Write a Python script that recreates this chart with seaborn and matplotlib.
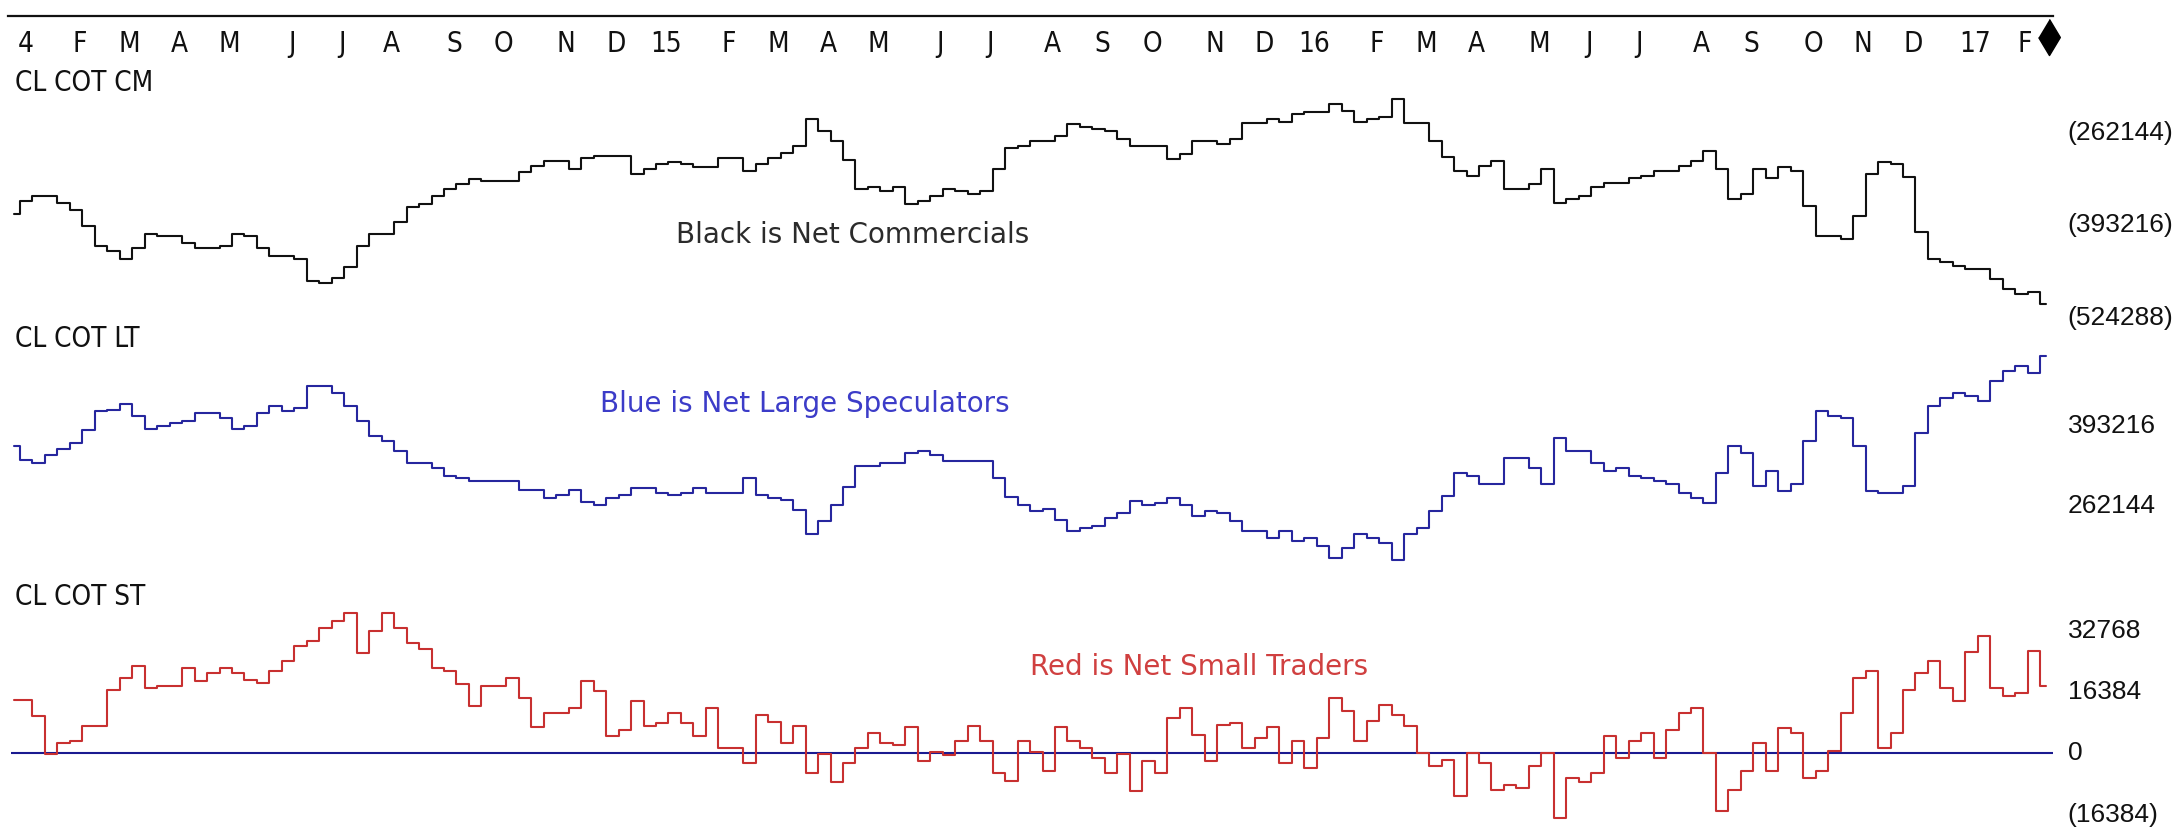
import numpy as np
import pandas as pd
import matplotlib
matplotlib.use("Agg")
import matplotlib.pyplot as plt
from matplotlib.transforms import blended_transform_factory
import seaborn as sns

sns.set_style("white")
plt.rcParams["font.family"] = ["DejaVu Sans"]

# ---------------------------------------------------------------------------
# Crude oil (CL) Commitments of Traders, weekly, net positions in thousands
# ---------------------------------------------------------------------------
week_dates = pd.date_range("2014-01-03", periods=164, freq="7D")

commercials_k = [
    -377, -359, -352, -352, -362, -371, -394, -422, -430, -441,
    -425, -405, -408, -408, -418, -425, -425, -422, -405, -408,
    -425, -436, -436, -440, -472, -475, -468, -452, -422, -405,
    -405, -388, -367, -363, -352, -341, -335, -327, -330, -330,
    -330, -317, -309, -302, -302, -313, -298, -295, -295, -295,
    -320, -313, -306, -303, -306, -310, -310, -298, -298, -316,
    -306, -298, -291, -281, -243, -259, -274, -301, -341, -338,
    -344, -338, -363, -359, -352, -342, -344, -349, -345, -313,
    -284, -281, -273, -273, -267, -249, -253, -256, -260, -271,
    -281, -281, -281, -299, -292, -274, -274, -278, -271, -248,
    -248, -242, -246, -235, -232, -232, -221, -231, -246, -243,
    -239, -214, -248, -248, -274, -296, -316, -323, -309, -302,
    -341, -341, -334, -313, -362, -355, -351, -338, -333, -333,
    -326, -323, -316, -316, -309, -302, -288, -313, -355, -348,
    -313, -326, -310, -316, -366, -408, -408, -412, -380, -320,
    -303, -306, -324, -402, -441, -445, -451, -455, -455, -469,
    -483, -490, -487, -504,
]

large_specs_k = [
    360, 338, 332, 345, 356, 365, 386, 417, 419, 430,
    410, 389, 393, 398, 401, 414, 414, 406, 389, 393,
    414, 426, 418, 422, 459, 459, 447, 426, 401, 377,
    369, 353, 332, 332, 324, 311, 308, 303, 303, 303,
    303, 288, 288, 276, 280, 288, 268, 264, 276, 280,
    292, 292, 284, 280, 284, 291, 284, 284, 284, 308,
    280, 276, 272, 256, 217, 238, 264, 293, 328, 328,
    332, 332, 349, 353, 345, 336, 336, 336, 336, 308,
    277, 264, 254, 258, 239, 222, 226, 229, 242, 250,
    271, 263, 267, 275, 263, 246, 254, 250, 238, 222,
    222, 209, 222, 205, 209, 197, 177, 193, 217, 209,
    201, 173, 217, 226, 254, 279, 316, 311, 299, 299,
    340, 340, 324, 299, 373, 353, 353, 332, 320, 324,
    311, 308, 303, 299, 283, 275, 267, 316, 360, 349,
    295, 320, 287, 299, 369, 418, 410, 406, 360, 287,
    283, 283, 295, 381, 426, 439, 447, 442, 434, 467,
    483, 491, 480, 508,
]

small_traders_k = [
    14.2, 14.2, 10.0, -0.2, 2.7, 3.4, 7.4, 7.4, 16.9, 20.0,
    23.4, 17.4, 18.1, 18.1, 22.7, 19.4, 21.4, 22.7, 21.4, 19.6,
    18.7, 22.1, 24.7, 28.7, 30.1, 33.4, 35.4, 37.4, 26.7, 32.8,
    37.4, 33.4, 29.5, 28.0, 22.7, 22.1, 18.5, 12.7, 18.1, 18.1,
    20.0, 14.7, 6.9, 10.7, 10.7, 12.0, 19.4, 16.7, 4.7, 6.1,
    14.1, 7.4, 8.0, 10.7, 8.0, 4.7, 12.0, 1.5, 1.5, -2.7,
    10.2, 8.3, 2.7, 7.4, -5.2, -0.3, -7.8, -2.7, 1.3, 5.3,
    2.7, 2.2, 6.9, -2.0, 0.3, -0.4, 3.4, 7.4, 3.4, -5.2,
    -7.3, 3.4, 0.3, -4.6, 6.9, 3.4, 1.5, -1.2, -5.2, -0.3,
    -10.1, -2.0, -5.2, 9.5, 12.2, 4.9, -2.0, 7.6, 8.2, 1.3,
    4.2, 6.9, -2.7, 3.4, -4.0, 4.2, 14.9, 11.3, 3.4, 8.7,
    12.9, 10.2, 7.4, 0.0, -3.4, -1.9, -11.4, 0.0, -2.7, -9.8,
    -8.5, -9.3, -3.3, 0.0, -17.4, -6.7, -7.8, -5.2, 4.7, -1.3,
    3.4, 5.3, -1.3, 6.1, 10.7, 12.2, 0.0, -15.3, -9.8, -4.6,
    2.7, -4.6, 6.7, 5.3, -6.7, -4.6, 0.6, 10.7, 20.0, 22.1,
    1.3, 5.3, 16.9, 21.4, 24.7, 17.4, 14.1, 27.0, 31.4, 17.4,
    15.3, 16.0, 27.3, 18.1,
]

month_labels = [
    "4", "F", "M", "A", "M", "J", "J", "A", "S", "O", "N", "D",
    "15", "F", "M", "A", "M", "J", "J", "A", "S", "O", "N", "D",
    "16", "F", "M", "A", "M", "J", "J", "A", "S", "O", "N", "D",
    "17", "F",
]

commercials_ticks = [-262144, -393216, -524288]
large_specs_ticks = [393216, 262144]
small_traders_ticks = [32768, 16384, 0, -16384]

panel_titles = ["CL COT CM", "CL COT LT", "CL COT ST"]
panel_notes = ["Black is Net Commercials", "Blue is Net Large Speculators",
               "Red is Net Small Traders"]

df = pd.DataFrame({
    "week": np.arange(len(week_dates)),
    "date": week_dates,
    "commercials": np.array(commercials_k, dtype=float) * 1000,
    "large_specs": np.array(large_specs_k, dtype=float) * 1000,
    "small_traders": np.array(small_traders_k, dtype=float) * 1000,
})
n_weeks = len(df)

# first report week of every month
month_start = [0] + [i for i in range(1, n_weeks)
                     if week_dates[i].month != week_dates[i - 1].month]

# ---------------------------------------------------------------------------
# layout helpers (pixel based)
# ---------------------------------------------------------------------------
W, H = 2177, 831
fig = plt.figure(figsize=(W / 100, H / 100), dpi=100)
fig.patch.set_facecolor("white")

PX_PER_WEEK = 12.47
X0_PX = 13.77
xlim = (-X0_PX / PX_PER_WEEK, (W - X0_PX) / PX_PER_WEEK)


def band_axes(top, bottom):
    return fig.add_axes([0, 1 - bottom / H, 1, (bottom - top) / H])


def limits_for(top, bottom, va, pa, vb, pb):
    per_px = (vb - va) / (pb - pa)
    return va + (bottom - pa) * per_px, va + (top - pa) * per_px


def fmt_value(v):
    return f"({abs(v)})" if v < 0 else f"{v}"


narrow = dict(family=["Liberation Sans Narrow", "DejaVu Sans"],
              stretch="condensed")
LINE_W = 1.5

panels = [
    # column, colour, band, calibration, ticks, note colour, note x, note baseline
    ("commercials", "#111111", (60, 330), (-262144, 133, -524288, 318),
     commercials_ticks, "#2b2b2b", 67.3, -417600),
    ("large_specs", "#26269e", (330, 590), (393216, 426, 262144, 506),
     large_specs_ticks, "#3c3cc8", 63.45, 416600),
    ("small_traders", "#c83030", (590, 831), (0, 753.3, 16384, 692.0),
     small_traders_ticks, "#d04040", 95.05, 20900),
]

for (col, color, (top, bot), cal, ticks, note_color, nx, ny), title, note in zip(
        panels, panel_titles, panel_notes):
    ax = band_axes(top, bot)
    if col == "small_traders":
        ax.hlines(0, -0.2, n_weeks - 0.5, color="#1a1a90", lw=1.5, zorder=1)
    sns.lineplot(data=df, x="week", y=col, color=color, lw=LINE_W,
                 drawstyle="steps-mid", errorbar=None, legend=False, ax=ax,
                 zorder=2)
    ax.set_xlim(*xlim)
    ax.set_ylim(*limits_for(top, bot, *cal))
    ax.axis("off")
    for t in ticks:
        ax.text(n_weeks + 0.7, t, fmt_value(t), ha="left", va="center",
                fontsize=19, family="Liberation Sans", color="#111111")
    ax.text(nx, ny, note, ha="center", va="baseline", fontsize=20,
            color=note_color)

# panel captions on the left
for title, base in zip(panel_titles, [91, 347, 605]):
    fig.text(15 / W, 1 - base / H, title, ha="left", va="baseline",
             fontsize=20, color="#111111", **narrow)

# ---------------------------------------------------------------------------
# time axis along the top
# ---------------------------------------------------------------------------
ax_t = band_axes(0, 16)
ax_t.set_xlim(*xlim)
ax_t.set_ylim(0, 1)
ax_t.set_facecolor("none")
for side in ["top", "left", "right"]:
    ax_t.spines[side].set_visible(False)
ax_t.spines["bottom"].set_linewidth(1.6)
ax_t.spines["bottom"].set_color("#111111")
ax_t.spines["bottom"].set_bounds(-0.46, n_weeks - 0.5)
ax_t.set_yticks([])
ax_t.set_xticks(np.array(month_start) + 0.3)
ax_t.set_xticklabels(month_labels, fontsize=20, color="#111111", **narrow)
ax_t.tick_params(axis="x", direction="out", length=7, width=1.0, pad=3,
                 color="#111111")
ax_t.get_xticklabels()[0].set_ha("left")

# marker for the latest report
trans = blended_transform_factory(ax_t.transData, fig.transFigure)
ax_t.plot([n_weeks - 1 + 0.2], [1 - 36.5 / H], transform=trans, clip_on=False,
          marker=[(0, 1), (0.6, 0), (0, -1), (-0.6, 0)], ms=26, color="black",
          linestyle="none")

fig.savefig("out.png", dpi=100, facecolor="white")
